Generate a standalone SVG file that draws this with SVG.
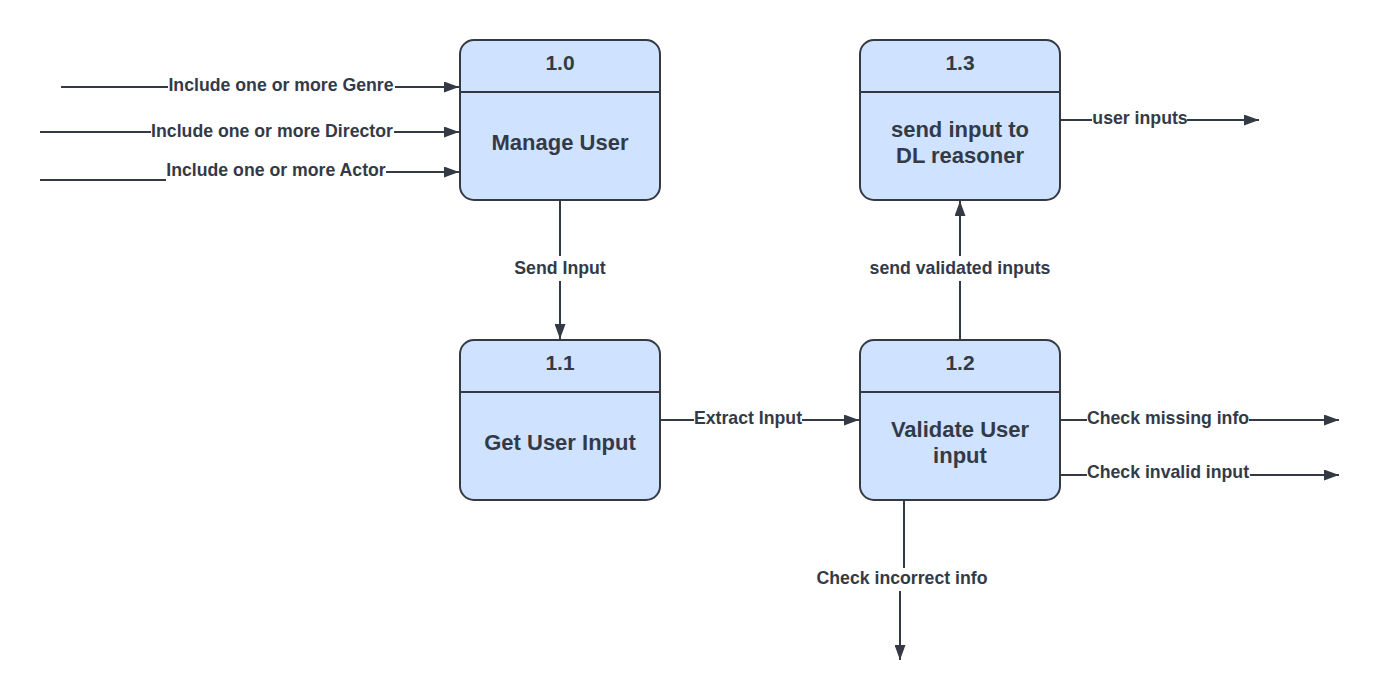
<svg xmlns="http://www.w3.org/2000/svg" width="1380" height="700" viewBox="0 0 1380 700">
<defs>
<style>
.box{fill:#cfe2ff;stroke:#333a44;stroke-width:2}
.div{stroke:#333a44;stroke-width:2}
.ttl{font-family:"Liberation Sans",Arial,sans-serif;font-weight:bold;font-size:21px;fill:#333a47;text-anchor:middle}
.body{font-family:"Liberation Sans",Arial,sans-serif;font-weight:bold;font-size:22px;fill:#333a47;text-anchor:middle}
.ln{fill:none;stroke:#333a44;stroke-width:2}
.lbl{font-family:"Liberation Sans",Arial,sans-serif;font-weight:bold;font-size:17.7px;fill:#333a47;text-anchor:middle}
</style>
<marker id="ah" viewBox="0 0 15 11" refX="15" refY="5.5" markerWidth="15" markerHeight="11" markerUnits="userSpaceOnUse" orient="auto">
<path d="M0,0 L15,5.5 L0,11 z" fill="#333a44"/>
</marker>
</defs>
<rect width="1380" height="700" fill="#ffffff"/>

<g id="connectors">
<line class="ln" x1="61" y1="87" x2="168" y2="87"/>
<line class="ln" x1="395" y1="87" x2="459" y2="87" marker-end="url(#ah)"/>
<text class="lbl" x="281" y="91">Include one or more Genre</text>

<line class="ln" x1="40" y1="132" x2="151" y2="132"/>
<line class="ln" x1="394" y1="132" x2="459" y2="132" marker-end="url(#ah)"/>
<text class="lbl" x="272" y="137">Include one or more Director</text>

<line class="ln" x1="40" y1="180" x2="166" y2="180"/>
<line class="ln" x1="386" y1="172" x2="459" y2="172" marker-end="url(#ah)"/>
<text class="lbl" x="276" y="176">Include one or more Actor</text>

<line class="ln" x1="560" y1="200" x2="560" y2="256"/>
<line class="ln" x1="560" y1="281" x2="560" y2="339" marker-end="url(#ah)"/>
<text class="lbl" x="560" y="274">Send Input</text>

<line class="ln" x1="660" y1="420" x2="694" y2="420"/>
<line class="ln" x1="802" y1="420" x2="859" y2="420" marker-end="url(#ah)"/>
<text class="lbl" x="748" y="424">Extract Input</text>

<line class="ln" x1="960" y1="340" x2="960" y2="281"/>
<line class="ln" x1="960" y1="256" x2="960" y2="201" marker-end="url(#ah)"/>
<text class="lbl" x="960" y="274">send validated inputs</text>

<line class="ln" x1="1060" y1="120" x2="1092" y2="120"/>
<line class="ln" x1="1187" y1="120" x2="1259" y2="120" marker-end="url(#ah)"/>
<text class="lbl" x="1140" y="124">user inputs</text>

<line class="ln" x1="1060" y1="420" x2="1087" y2="420"/>
<line class="ln" x1="1249" y1="420" x2="1339" y2="420" marker-end="url(#ah)"/>
<text class="lbl" x="1168" y="424">Check missing info</text>

<line class="ln" x1="1060" y1="475" x2="1087" y2="475"/>
<line class="ln" x1="1250" y1="475" x2="1339" y2="475" marker-end="url(#ah)"/>
<text class="lbl" x="1168" y="478">Check invalid input</text>

<line class="ln" x1="904" y1="500" x2="904" y2="568"/>
<line class="ln" x1="900" y1="591" x2="900" y2="660" marker-end="url(#ah)"/>
<text class="lbl" x="902" y="584">Check incorrect info</text>
</g>

<g id="node-1-0">
<rect class="box" x="460" y="40" width="200" height="160" rx="14"/>
<line class="div" x1="460" y1="92" x2="660" y2="92"/>
<text class="ttl" x="560" y="70">1.0</text>
<text class="body" x="560" y="150">Manage User</text>
</g>

<g id="node-1-1">
<rect class="box" x="460" y="340" width="200" height="160" rx="14"/>
<line class="div" x1="460" y1="392" x2="660" y2="392"/>
<text class="ttl" x="560" y="370">1.1</text>
<text class="body" x="560" y="450">Get User Input</text>
</g>

<g id="node-1-2">
<rect class="box" x="860" y="340" width="200" height="160" rx="14"/>
<line class="div" x1="860" y1="392" x2="1060" y2="392"/>
<text class="ttl" x="960" y="370">1.2</text>
<text class="body" x="960" y="437">Validate User</text>
<text class="body" x="960" y="463">input</text>
</g>

<g id="node-1-3">
<rect class="box" x="860" y="40" width="200" height="160" rx="14"/>
<line class="div" x1="860" y1="92" x2="1060" y2="92"/>
<text class="ttl" x="960" y="70">1.3</text>
<text class="body" x="960" y="137">send input to</text>
<text class="body" x="960" y="163">DL reasoner</text>
</g>
</svg>
